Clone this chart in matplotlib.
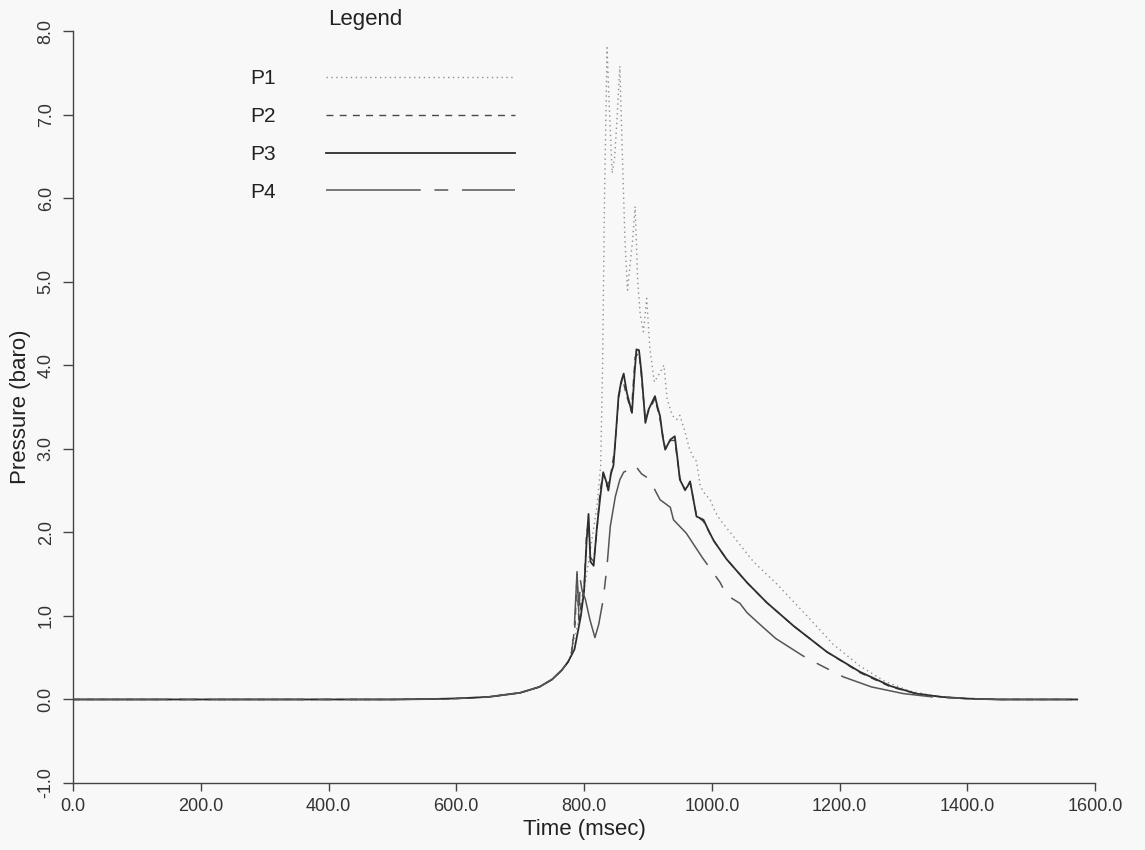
import numpy as np
import matplotlib.pyplot as plt

plt.rcParams['font.family'] = ['Liberation Sans Narrow', 'Liberation Sans', 'DejaVu Sans']

# common slow rise before the pulse (msec, bar)
t_rise = [0, 500, 560, 600, 650, 700, 730, 750, 765, 775]
p_rise = [0.0, 0.0, 0.005, 0.012, 0.03, 0.08, 0.15, 0.24, 0.35, 0.45]

# common tail after the pulse
t_tail = [1450, 1572]
p_tail = [0.0, 0.0]

t1 = [780, 790, 800, 810, 820, 826, 829, 832, 836, 840, 844, 848, 852, 856, 860, 864, 868,
      872, 876, 880, 884, 888, 893, 898, 903, 910, 918, 925, 930, 938, 945, 950, 958, 965,
      971, 976, 982, 990, 997, 1005, 1013, 1034, 1065, 1102, 1149, 1190, 1232, 1270, 1310,
      1350, 1400]
p1 = [0.55, 0.9, 1.3, 1.8, 2.3, 2.8, 4.0, 6.0, 7.8, 7.0, 6.3, 6.5, 7.0, 7.58, 6.5, 5.5, 4.9,
      5.2, 5.5, 5.9, 5.0, 4.6, 4.4, 4.8, 4.2, 3.8, 3.9, 4.0, 3.6, 3.4, 3.35, 3.4, 3.2, 3.0,
      2.9, 2.85, 2.55, 2.45, 2.4, 2.25, 2.15, 1.95, 1.65, 1.38, 1.0, 0.66, 0.4, 0.22, 0.1,
      0.04, 0.01]

t2 = [780, 786, 789, 792, 796, 800, 804, 807, 810, 815, 820, 825, 830, 836, 842, 848, 854,
      860, 866, 874, 880, 886, 890, 896, 901, 911, 919, 927, 935, 942, 950, 958, 966, 976,
      987, 1003, 1023, 1055, 1086, 1128, 1180, 1232, 1280, 1320, 1360, 1400]
p2 = [0.55, 0.9, 1.5, 0.9, 1.2, 1.3, 2.0, 2.1, 1.7, 1.65, 2.0, 2.5, 2.7, 2.55, 2.7, 3.0, 3.6,
      3.85, 3.65, 3.45, 4.1, 4.15, 3.85, 3.35, 3.45, 3.6, 3.35, 3.0, 3.1, 3.1, 2.65, 2.5,
      2.6, 2.2, 2.13, 1.9, 1.68, 1.4, 1.16, 0.88, 0.57, 0.32, 0.15, 0.07, 0.03, 0.01]

t3 = [785, 790, 795, 800, 804, 807, 810, 815, 820, 825, 830, 835, 838, 842, 846, 850, 854,
      858, 862, 867, 871, 875, 879, 882, 886, 890, 896, 901, 906, 911, 915, 919, 923, 927,
      931, 935, 942, 946, 950, 958, 962, 966, 971, 976, 987, 995, 1003, 1023, 1055, 1086,
      1128, 1180, 1232, 1280, 1320, 1360, 1400]
p3 = [0.6, 0.8, 1.0, 1.3, 1.9, 2.22, 1.65, 1.6, 2.05, 2.4, 2.72, 2.6, 2.5, 2.7, 2.8, 3.2, 3.63,
      3.8, 3.9, 3.67, 3.55, 3.43, 3.9, 4.19, 4.18, 3.9, 3.31, 3.47, 3.55, 3.63, 3.5, 3.39,
      3.15, 2.99, 3.05, 3.11, 3.15, 2.9, 2.63, 2.51, 2.55, 2.61, 2.4, 2.19, 2.15, 2.02, 1.9,
      1.68, 1.4, 1.16, 0.88, 0.57, 0.33, 0.16, 0.07, 0.03, 0.01]

t4 = [780, 785, 789, 792, 794, 797, 802, 809, 817, 823, 830, 836, 841, 849, 856, 862, 870,
      880, 890, 900, 908, 919, 935, 940, 960, 985, 1013, 1023, 1044, 1055, 1075, 1100,
      1143, 1170, 1206, 1250, 1300, 1346, 1400]
p4 = [0.5, 0.9, 1.53, 1.0, 1.44, 1.3, 1.2, 0.96, 0.74, 0.9, 1.2, 1.6, 2.07, 2.43, 2.63,
      2.72, 2.75, 2.8, 2.7, 2.65, 2.55, 2.39, 2.3, 2.15, 1.99, 1.7, 1.4, 1.25, 1.15, 1.04,
      0.9, 0.73, 0.52, 0.41, 0.27, 0.15, 0.07, 0.03, 0.01]

labels = ['P1', 'P2', 'P3', 'P4']
series = [(t1, p1), (t2, p2), (t3, p3), (t4, p4)]
styles = [
    dict(color='#909090', lw=1.0, dashes=(1, 2.5)),
    dict(color='#4a4a4a', lw=1.0, dashes=(5, 4.5)),
    dict(color='#2e2e2e', lw=1.3),
    dict(color='#555555', lw=1.1, dashes=(62, 9, 9, 9)),
]

fig = plt.figure(figsize=(11.45, 8.5), dpi=100, facecolor='#f8f8f8')
ax = fig.add_axes([0.0638, 0.0788, 0.8926, 0.8847])
ax.set_facecolor('#f8f8f8')

for lab, (t, p), st in zip(labels, series, styles):
    x = np.array(t_rise + t + t_tail)
    y = np.array(p_rise + p + p_tail)
    ax.plot(x, y, label=lab, **st)

ax.set_xlim(0, 1600)
ax.set_ylim(-1, 8)
ax.set_xticks(np.arange(0, 1601, 200))
ax.set_xticklabels([f'{v:.1f}' for v in np.arange(0, 1601, 200)], fontsize=13)
ax.set_yticks(np.arange(-1, 9, 1))
ax.set_yticklabels([f'{v:.1f}' for v in np.arange(-1, 9, 1)], fontsize=13,
                   rotation=90, va='center')

for s in ['top', 'right']:
    ax.spines[s].set_visible(False)
for s in ['left', 'bottom']:
    ax.spines[s].set_color('#444444')
    ax.spines[s].set_linewidth(1.0)
ax.tick_params(axis='y', direction='out', length=7.2, width=1.0, colors='#444444',
               labelcolor='#333333', pad=6)
ax.tick_params(axis='x', direction='out', length=5.8, width=1.0, colors='#444444',
               labelcolor='#333333', pad=5)

ax.set_xlabel('Time (msec)', fontsize=16, color='#222222')
ax.set_ylabel('Pressure (baro)', fontsize=16, color='#222222')
ax.xaxis.set_label_coords(0.5, -0.048)
ax.yaxis.set_label_coords(-0.041, 0.5)

leg = ax.legend(loc='upper left', bbox_to_anchor=(0.1732, 0.949), frameon=False,
                markerfirst=False, fontsize=15, handlelength=9.1, handletextpad=2.4,
                labelspacing=0.9, borderpad=0, borderaxespad=0)
for txt in leg.get_texts():
    txt.set_color('#222222')
fig.text(328 / 1145, 1 - 20 / 850, 'Legend', fontsize=16, color='#222222',
         ha='left', va='center')

fig.savefig('out.png', dpi=100, facecolor=fig.get_facecolor())
